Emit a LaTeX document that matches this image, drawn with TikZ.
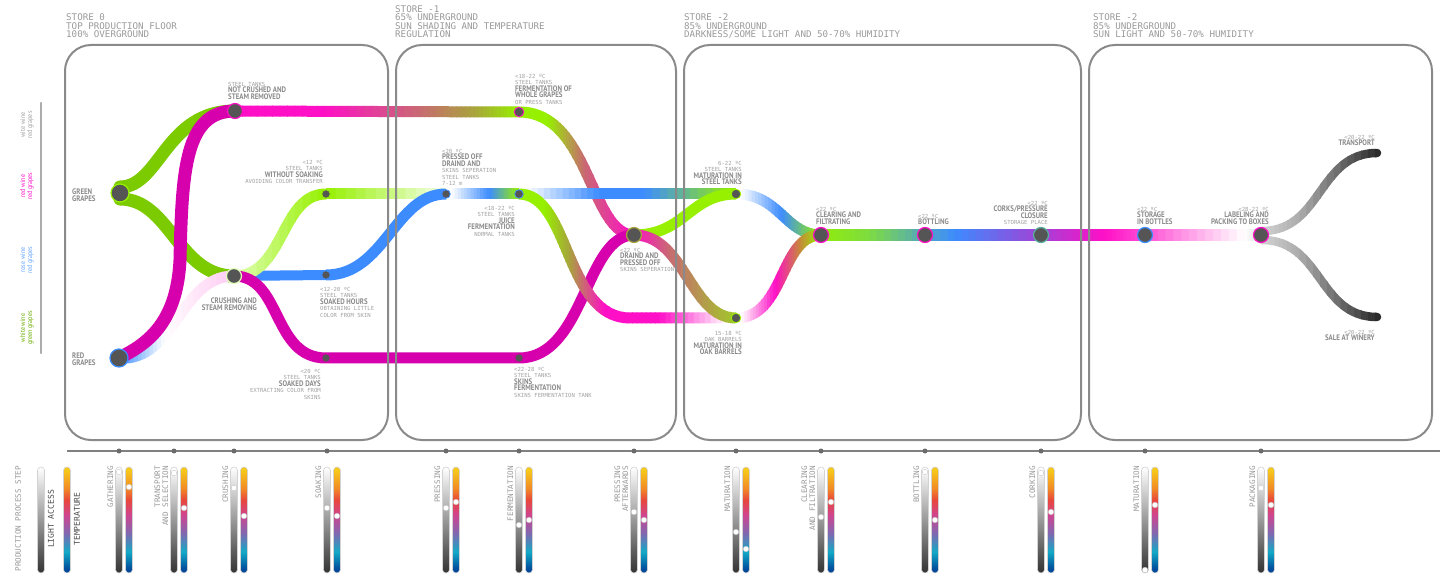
\documentclass[tikz,border=0pt]{standalone}
\usepackage{fontspec}
\usetikzlibrary{calc}
\newfontfamily\monofont{DejaVu Sans Mono}
\newfontfamily\lblfont[FakeStretch=0.86]{PT Sans}
\lineskiplimit=-4pt

\definecolor{fGreen}{HTML}{7CCB00}
\definecolor{fLime}{HTML}{96F000}
\definecolor{fLimeLight}{HTML}{E2FFB8}
\definecolor{fLimeWhite}{HTML}{F4FFE8}
\definecolor{fMag}{HTML}{D600AC}
\definecolor{fPink}{HTML}{FF0FC6}
\definecolor{fRose}{HTML}{C86A72}
\definecolor{fOlive}{HTML}{A8A43C}
\definecolor{fOliveGreen}{HTML}{A0C828}
\definecolor{fOrange}{HTML}{C8863C}
\definecolor{fBlue}{HTML}{3C8CFF}
\definecolor{fTeal}{HTML}{5AB0A0}
\definecolor{fLeaf}{HTML}{7EDC40}
\definecolor{fPurple}{HTML}{A242D6}
\colorlet{fPinkPale}{fPink!70!white}
\colorlet{fPinkSoft}{fPink!22!white}
\colorlet{forkLight}{gray!25}
\colorlet{forkMid}{gray!65}
\colorlet{forkDark}{black!85}
\definecolor{dotFill}{HTML}{555555}
\definecolor{boxLine}{HTML}{8A8A8A}
\definecolor{txtGray}{HTML}{A0A0A0}
\definecolor{labelGray}{HTML}{8A8A8A}
\definecolor{hdrGray}{HTML}{9A9A9A}
\definecolor{tYellow}{HTML}{F6C81A}
\definecolor{tOrange}{HTML}{F28B26}
\definecolor{tRed}{HTML}{E8473A}
\definecolor{tMag}{HTML}{D1448E}
\definecolor{tPurple}{HTML}{8466B0}
\definecolor{tCyan}{HTML}{12A9C6}
\definecolor{tBlue}{HTML}{00489A}

\pgfdeclareverticalshading{tempscale}{100bp}{color(0bp)=(tBlue); color(26.5bp)=(tBlue);
  color(35bp)=(tCyan); color(44bp)=(tPurple); color(52.5bp)=(tMag); color(59.5bp)=(tRed);
  color(65bp)=(tOrange); color(73.5bp)=(tYellow); color(100bp)=(tYellow)}

\newcommand\tinytxt[1]{{\monofont\fontsize{5.6}{6.5}\selectfont\color{txtGray}#1}}
\newcommand\labeltxt[1]{{\lblfont\bfseries\fontsize{8}{6.5}\selectfont\color{labelGray}#1}}

% stroke with a colour gradient from x=#2 to x=#3
\newcommand\gradseg[6][]{%
  \foreach \k in {0,...,11}{%
    \pgfmathsetmacro\xa{#2+(#3-#2)*\k/12-0.4}%
    \pgfmathsetmacro\xb{#2+(#3-#2)*(\k+1)/12+0.4}%
    \pgfmathtruncatemacro\mix{100-(100*\k+50)/12}%
    \begin{scope}
      \clip (\xa,0) rectangle (\xb,577);
      \draw[flow,#1,color={#4!\mix!#5}] #6;
    \end{scope}}}

\tikzset{
  flow/.style={line width=11pt},
  storebox/.style={draw=boxLine, line width=2pt, rounded corners=26pt},
  dotbig/.style={circle, fill=dotFill, minimum size=15pt, inner sep=0pt, line width=1.2pt},
  dotsmall/.style={circle, fill=dotFill, minimum size=8.5pt, inner sep=0pt, line width=0.8pt},
  hdr/.style={font=\monofont\fontsize{9.2}{8.5}\selectfont, text=hdrGray, align=left, inner sep=0pt, anchor=north west},
  lblL/.style={font=\fontsize{6}{6.5}\selectfont, align=left, inner sep=0pt, anchor=north west},
  lblR/.style={lblL, align=right, anchor=north east},
  winelbl/.style={rotate=90, font=\lblfont\fontsize{7}{7}\selectfont, align=center, inner sep=0pt},
  steplbl/.style={rotate=90, font=\monofont\fontsize{7.6}{8}\selectfont, text=hdrGray, align=right, inner sep=0pt, anchor=south east},
  legendlbl/.style={rotate=90, font=\monofont\fontsize{8}{8}\selectfont, text=black!70, inner sep=0pt},
  tick/.style={circle, fill=gray!85!black, minimum size=5pt, inner sep=0pt},
  level/.style={circle, fill=white, draw=gray!40, line width=0.4pt, minimum size=5.5pt, inner sep=0pt},
  lightbar/.style={rounded corners=3.5pt, top color=white, bottom color=black!80, draw=gray!35, line width=0.6pt},
  tempbar/.style={rounded corners=3.5pt, shading=tempscale, draw=gray!35, line width=0.6pt}
}

\begin{document}
\begin{tikzpicture}[x=1pt, y=-1pt]
\useasboundingbox (0,0) rectangle (1449,577);

% steps of the process
\coordinate (gg) at (120,193);
\coordinate (rg) at (119,358);
\coordinate (nc) at (235,111);
\coordinate (cr) at (234,276);
\coordinate (ws) at (326,194);
\coordinate (sh) at (326,275);
\coordinate (sd) at (326,358);
\coordinate (fw) at (519,112);
\coordinate (po) at (446,194);
\coordinate (jf) at (519,194);
\coordinate (skf) at (519,358);
\coordinate (dp) at (634,235);
\coordinate (ms) at (736,194);
\coordinate (mo) at (736,318);
\coordinate (cl) at (821,235);
\coordinate (bt) at (925,235);
\coordinate (ck) at (1041,235);
\coordinate (sb) at (1145,235);
\coordinate (lb) at (1261,235);
\coordinate (tr) at (1377,153);
\coordinate (sw) at (1377,317);

% store 0
\draw[flow, fGreen, line width=13pt, line cap=round] (120,187) .. controls (160,187) and (165,111) .. (nc);
\draw[flow, fGreen, line width=13pt, line cap=round] (120,199) .. controls (170,199) and (178,276) .. (cr);
\gradseg{119}{165}{fBlue}{white}{(rg) .. controls (175,362) and (180,276) .. (cr)}
\gradseg{165}{234}{white}{fPinkSoft}{(rg) .. controls (175,362) and (180,276) .. (cr)}
\draw[flow, fMag, line width=13pt, line cap=round] (rg) .. controls (145,345) and (177,325) .. (180,260)
  .. controls (182,170) and (185,111) .. (nc);
\draw[flow, fBlue, line width=10pt] (cr) -- (sh);
\gradseg{234}{326}{fLimeLight}{fLime}{(cr) .. controls (285,276) and (280,194) .. (ws)}
\draw[flow, fMag] (cr) .. controls (282,276) and (272,358) .. (sd) -- (skf);
\gradseg{235}{325}{fPink}{fPink}{(nc) -- (fw)}
\gradseg{325}{420}{fPink}{fRose}{(nc) -- (fw)}
\gradseg{420}{475}{fRose}{fOlive}{(nc) -- (fw)}
\gradseg{475}{519}{fOlive}{fLime}{(nc) -- (fw)}

% store -1
\gradseg{326}{446}{fLime}{fLimeWhite}{(ws) -- (po)}
\draw[flow, fBlue] (sh) .. controls (385,275) and (395,194) .. (po);
\gradseg{452}{490}{white}{fBlue}{(po) -- (jf)}
\gradseg{490}{519}{fBlue}{fLime}{(po) -- (jf)}
\gradseg{519}{548}{fLime}{fLime}{(fw) .. controls (590,112) and (590,235) .. (dp)}
\gradseg{548}{585}{fLime}{fRose}{(fw) .. controls (590,112) and (590,235) .. (dp)}
\gradseg{585}{634}{fRose}{fPink}{(fw) .. controls (590,112) and (590,235) .. (dp)}
\gradseg{526}{600}{white}{fBlue}{(jf) -- (ms)}
\gradseg{600}{645}{fBlue}{fBlue}{(jf) -- (ms)}
\gradseg{645}{736}{fBlue}{fLime}{(jf) -- (ms)}
\draw[flow, fMag] (skf) .. controls (585,358) and (585,235) .. (dp);
\gradseg{519}{545}{fLime}{fLime}{(jf) .. controls (570,194) and (565,318) .. (630,318) -- (mo)}
\gradseg{545}{570}{fLime}{fOlive}{(jf) .. controls (570,194) and (565,318) .. (630,318) -- (mo)}
\gradseg{570}{605}{fOlive}{fPink}{(jf) .. controls (570,194) and (565,318) .. (630,318) -- (mo)}
\gradseg{605}{660}{fPink}{fPink}{(jf) .. controls (570,194) and (565,318) .. (630,318) -- (mo)}
\gradseg{660}{728}{fPink}{white}{(jf) .. controls (570,194) and (565,318) .. (630,318) -- (mo)}

% store -2
\draw[flow, fLime] (dp) .. controls (685,235) and (690,194) .. (ms);
\gradseg{634}{670}{fPink}{fRose}{(dp) .. controls (685,235) and (690,318) .. (mo)}
\gradseg{670}{736}{fRose}{fOliveGreen}{(dp) .. controls (685,235) and (690,318) .. (mo)}
\gradseg[line width=12pt]{812}{870}{fLime}{fLeaf}{(812,235) -- (lb)}
\gradseg{742}{782}{white}{fBlue}{(ms) .. controls (780,194) and (785,235) .. (cl)}
\gradseg{782}{821}{fBlue}{fLime}{(ms) .. controls (780,194) and (785,235) .. (cl)}
\gradseg{742}{776}{white}{fPink}{(mo) .. controls (785,318) and (780,235) .. (cl)}
\gradseg{776}{800}{fPink}{fOrange}{(mo) .. controls (785,318) and (780,235) .. (cl)}
\gradseg{800}{821}{fOrange}{fLime}{(mo) .. controls (785,318) and (780,235) .. (cl)}
\gradseg[line width=12pt]{870}{955}{fLeaf}{fBlue}{(812,235) -- (lb)}
\gradseg[line width=12pt]{955}{1041}{fBlue}{fPurple}{(812,235) -- (lb)}
\gradseg[line width=12pt]{1041}{1105}{fPurple}{fPink}{(812,235) -- (lb)}
\gradseg[line width=12pt]{1105}{1150}{fPink}{fPinkPale}{(812,235) -- (lb)}
\gradseg[line width=12pt]{1150}{1245}{fPinkPale}{white}{(812,235) -- (lb)}
\gradseg[line width=12pt]{1245}{1262}{white}{forkLight}{(812,235) -- (lb)}
\gradseg[line width=8.5pt, line cap=round]{1250}{1300}{forkLight}{forkMid}{(1262,231) .. controls (1322,231) and (1318,153) .. (tr) (1262,240) .. controls (1322,240) and (1318,317) .. (sw)}
\gradseg[line width=8.5pt, line cap=round]{1300}{1382}{forkMid}{forkDark}{(1262,231) .. controls (1322,231) and (1318,153) .. (tr) (1262,240) .. controls (1322,240) and (1318,317) .. (sw)}

% stores
\draw[storebox] (65,45) rectangle (388,440);
\draw[storebox] (396,45) rectangle (676,440);
\draw[storebox] (684,45) rectangle (1081,440);
\draw[storebox] (1089,45) rectangle (1432,440);

\node[hdr] (hdr-0) at (66,13.5) {STORE 0\\TOP PRODUCTION FLOOR\\100\% OVERGROUND};
\node[hdr] (hdr-1) at (395,5) {STORE -1\\65\% UNDERGROUND\\SUN SHADING AND TEMPERATURE\\REGULATION};
\node[hdr] (hdr-2) at (684,13.5) {STORE -2\\85\% UNDERGROUND\\DARKNESS/SOME LIGHT AND 50-70\% HUMIDITY};
\node[hdr] (hdr-3) at (1093,13.5) {STORE -2\\85\% UNDERGROUND\\SUN LIGHT AND 50-70\% HUMIDITY};

% dots
\node[dotbig, draw=fLime, minimum size=18pt] (gg-dot) at (gg) {};
\node[dotbig, draw=fBlue, minimum size=18pt] (rg-dot) at (rg) {};
\node[dotbig, draw=fPink] (nc-dot) at (nc) {};
\node[dotbig, draw=fLimeLight] (cr-dot) at (cr) {};
\node[dotsmall, draw=fLime] (ws-dot) at (ws) {};
\node[dotsmall, draw=fBlue] (sh-dot) at (sh) {};
\node[dotsmall, draw=fMag] (sd-dot) at (sd) {};
\node[dotsmall, draw=fPink, minimum size=9.5pt] (fw-dot) at (fw) {};
\node[dotsmall, draw=fBlue] (po-dot) at (po) {};
\node[dotsmall, draw=fBlue] (jf-dot) at (jf) {};
\node[dotsmall, draw=fMag] (skf-dot) at (skf) {};
\node[dotbig, draw=fOlive] (dp-dot) at (dp) {};
\node[dotsmall, draw=fLime, minimum size=9.5pt] (ms-dot) at (ms) {};
\node[dotsmall, draw=fLime, minimum size=9.5pt] (mo-dot) at (mo) {};
\node[dotbig, draw=fPink] (cl-dot) at (cl) {};
\node[dotbig, draw=fPink] (bt-dot) at (bt) {};
\node[dotbig, draw=fTeal] (ck-dot) at (ck) {};
\node[dotbig, draw=fBlue] (sb-dot) at (sb) {};
\node[dotbig, draw=fPink] (lb-dot) at (lb) {};

% labels
\node[lblL] (gg-lbl) at (72,189) {\labeltxt{GREEN}\\\labeltxt{GRAPES}};
\node[lblL] (rg-lbl) at (72,353) {\labeltxt{RED}\\\labeltxt{GRAPES}};
\node[lblL] (nc-lbl) at (228,82) {\tinytxt{STEEL TANKS}\\\labeltxt{NOT CRUSHED AND}\\\labeltxt{STEAM REMOVED}};
\node[lblR] (ws-lbl) at (323,160) {\tinytxt{<12 ºC}\\\tinytxt{STEEL TANKS}\\\labeltxt{WITHOUT SOAKING}\\\tinytxt{AVOIDING COLOR TRANSFER}};
\node[lblR] (cr-lbl) at (257,298) {\labeltxt{CRUSHING AND}\\\labeltxt{STEAM REMOVING}};
\node[lblL] (sh-lbl) at (320,287) {\tinytxt{<12-20 ºC}\\\tinytxt{STEEL TANKS}\\\labeltxt{SOAKED HOURS}\\\tinytxt{OBTAINING LITTLE}\\\tinytxt{COLOR FROM SKIN}};
\node[lblR] (sd-lbl) at (321,369) {\tinytxt{<20 ºC}\\\tinytxt{STEEL TANKS}\\\labeltxt{SOAKED DAYS}\\\tinytxt{EXTRACTING COLOR FROM}\\\tinytxt{SKINS}};
\node[lblL] (fw-lbl) at (515,74) {\tinytxt{<18-22 ºC}\\\tinytxt{STEEL TANKS}\\\labeltxt{FERMENTATION OF}\\\labeltxt{WHOLE GRAPES}\\\tinytxt{OR PRESS TANKS}};
\node[lblL] (po-lbl) at (442,149) {\tinytxt{<20 ºC}\\\labeltxt{PRESSED OFF}\\\labeltxt{DRAIND AND}\\\tinytxt{SKINS SEPERATION}\\\tinytxt{STEEL TANKS}\\\tinytxt{7-12 m}};
\node[lblR] (jf-lbl) at (515,206) {\tinytxt{<18-22 ºC}\\\tinytxt{STEEL TANKS}\\\labeltxt{JUICE}\\\labeltxt{FERMENTATION}\\\tinytxt{NORMAL TANKS}};
\node[lblL] (skf-lbl) at (514,367) {\tinytxt{<22-28 ºC}\\\tinytxt{STEEL TANKS}\\\labeltxt{SKINS}\\\labeltxt{FERMENTATION}\\\tinytxt{SKINS FERMENTATION TANK}};
\node[lblL] (dp-lbl) at (620,248) {\tinytxt{<22 ºC}\\\labeltxt{DRAIND AND}\\\labeltxt{PRESSED OFF}\\\tinytxt{SKINS SEPERATION}};
\node[lblR] (ms-lbl) at (742,161) {\tinytxt{6-22 ºC}\\\tinytxt{STEEL TANKS}\\\labeltxt{MATURATION IN}\\\labeltxt{STEEL TANKS}};
\node[lblR] (mo-lbl) at (742,331) {\tinytxt{15-18 ºC}\\\tinytxt{OAK BARRELS}\\\labeltxt{MATURATION IN}\\\labeltxt{OAK BARRELS}};
\node[lblL] (cl-lbl) at (816,207) {\tinytxt{<22 ºC}\\\labeltxt{CLEARING AND}\\\labeltxt{FILTRATING}};
\node[lblL] (bt-lbl) at (918,214) {\tinytxt{<22 ºC}\\\labeltxt{BOTTLING}};
\node[lblR] (ck-lbl) at (1048,201) {\tinytxt{<22 ºC}\\\labeltxt{CORKS/PRESSURE}\\\labeltxt{CLOSURE}\\\tinytxt{STORAGE PLACE}};
\node[lblL] (sb-lbl) at (1137,207) {\tinytxt{<22 ºC}\\\labeltxt{STORAGE}\\\labeltxt{IN BOTTLES}};
\node[lblR] (lb-lbl) at (1269,207) {\tinytxt{<28-22 ºC}\\\labeltxt{LABELING AND}\\\labeltxt{PACKING TO BOXES}};
\node[lblR] (tr-lbl) at (1375,135) {\tinytxt{<20-22 ºC}\\\labeltxt{TRANSPORT}};
\node[lblR] (sw-lbl) at (1375,330) {\tinytxt{<20-22 ºC}\\\labeltxt{SALE AT WINERY}};

% wine legend
\draw[gray!65, line width=2.5pt, line cap=round] (41,103) -- (41,353);
\node[winelbl, text=txtGray] (leg-wite) at (27,125) {wite wine\\red grapes};
\node[winelbl, text=fPink] (leg-red) at (27,186) {red wine\\red grapes};
\node[winelbl, text=fBlue!80!white] (leg-rose) at (27,260) {rose wine\\red grapes};
\node[winelbl, text=fGreen!85!black] (leg-white) at (27,328) {white wine\\green grapes};

% bottom scale
\draw[gray, line width=1.5pt] (67,451) -- (1440,451);
\node[steplbl, anchor=east] (leg-step) at (18,466) {PRODUCTION PROCESS STEP};
\shadedraw[lightbar] (37.5,467) rectangle (44.5,573);
\shadedraw[tempbar] (63.5,467) rectangle (70.5,573);
\node[legendlbl] (leg-light) at (51,519) {LIGHT ACCESS};
\node[legendlbl] (leg-temp) at (77,519) {TEMPERATURE};

\foreach \x/\g/\t/\name in {119/472/487/GATHERING, 174/473/508/{TRANSPORT\\AND SELECTION},
  234/488/516/CRUSHING, 327/508/516/SOAKING, 446/508/502/PRESSING, 519/525/520/FERMENTATION,
  634/512/520/{PRESSING\\AFTERWARDS}, 736/532/549/MATURATION, 821/517/502/{CLEARING\\AND FILTRATION},
  925/472/520/BOTTLING, 1041/473/512/CORKING, 1145/570/505/MATURATION, 1261/488/505/PACKAGING}{
  \node[tick] (tick-\x) at (\x,451) {};
  \shadedraw[lightbar] (\x-3.5,467) rectangle (\x+3.5,573);
  \shadedraw[tempbar] (\x+6.5,467) rectangle (\x+13.5,573);
  \node[level] (light-\x) at (\x,\g) {};
  \node[level] (temp-\x) at (\x+10,\t) {};
  \node[steplbl] (step-\x) at (\x-5.5,466) {\name};
}
\end{tikzpicture}
\end{document}
